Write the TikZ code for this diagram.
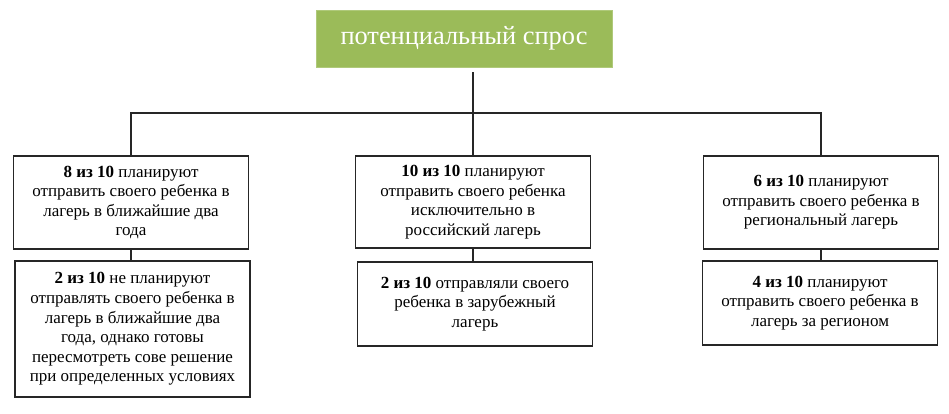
\documentclass[tikz,border=0pt]{standalone}
\usepackage{fontspec}
\setmainfont{Liberation Serif}
\usetikzlibrary{positioning}
\definecolor{grn}{RGB}{155,187,89}

\tikzset{
  box/.style={draw=black!85, line width=1.3pt, align=center, minimum width=235pt, inner sep=2pt, font=\fontsize{17}{19.6}\selectfont},
  lnk/.style={draw=black!85, line width=1.3pt}
}

\begin{document}
\begin{tikzpicture}[x=1pt,y=-1pt]
            \useasboundingbox (0,0) rectangle (949,413);
            % top
            \node[fill=grn, draw=grn!80, minimum width=296pt, minimum height=57pt, text=white, font=\fontsize{26.4}{28}\selectfont] (top) at (464,38.5) {потенциальный спрос};
            % first row
            \node[box, minimum height=93pt] (l1) at (131,202.5) {\textbf{8 из 10} планируют\\отправить своего ребенка в\\лагерь в ближайшие два\\года};
            \node[box, minimum height=92pt] (m1) at (473,202) {\textbf{10 из 10} планируют\\отправить своего ребенка\\исключительно в\\российский лагерь};
            \node[box, minimum height=93pt] (r1) at (821,202.5) {\textbf{6 из 10} планируют\\отправить своего ребенка в\\региональный лагерь};
            % second row
            \node[box, minimum height=136pt] (l2) at (132.5,329) {\textbf{2 из 10} не планируют\\отправлять своего ребенка в\\лагерь в ближайшие два\\года, однако готовы\\пересмотреть сове решение\\при определенных условиях};
            \node[box, minimum height=84pt] (m2) at (475,304) {\textbf{2 из 10} отправляли своего\\ребенка в зарубежный\\лагерь};
            \node[box, minimum height=84pt] (r2) at (820,303) {\textbf{4 из 10} планируют\\отправить своего ребенка в\\лагерь за регионом};
            % connectors
            \coordinate (c0) at (473,72);
            \coordinate (bar) at (473,113);
            \draw[lnk] (c0) -- (bar);
            \draw[lnk] (l1.north) |- (bar) -| (r1.north);
            \draw[lnk] (bar) -- (m1.north);
            \draw[lnk] (l1.south) -- (l1.south |- l2.north);
            \draw[lnk] (m1.south) -- (m1.south |- m2.north);
            \draw[lnk] (r1.south) -- (r1.south |- r2.north);
        \end{tikzpicture}
\end{document}
